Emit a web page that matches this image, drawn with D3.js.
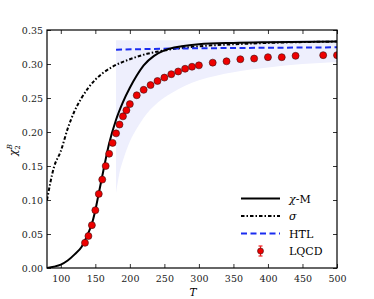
<!DOCTYPE html>
<html>
<head>
<meta charset="utf-8">
<script src="https://cdn.jsdelivr.net/npm/d3@7"></script>
<style>
  body { margin: 0; background: #fff; }
  svg { display: block; }
</style>
</head>
<body>
<script>
// chi-M model curve
const chiT = [80, 90, 100, 110, 120, 130, 140, 145, 150, 155, 160, 165, 170, 180, 190, 200, 210, 220, 235, 250, 275, 300, 350, 400, 500];
const chiV = [0.000, 0.002, 0.005, 0.011, 0.020, 0.031, 0.052, 0.065, 0.085, 0.110, 0.135, 0.160, 0.183, 0.218, 0.244, 0.265, 0.283, 0.298, 0.312, 0.320, 0.326, 0.329, 0.331, 0.332, 0.333];

// sigma curve
const sigT = [80, 90, 100, 110, 120, 130, 140, 150, 160, 175, 200, 225, 250, 300, 350, 400, 500];
const sigV = [0.100, 0.148, 0.172, 0.205, 0.231, 0.250, 0.265, 0.277, 0.286, 0.296, 0.307, 0.315, 0.320, 0.326, 0.329, 0.331, 0.333];

// HTL
const htlT = [180, 250, 350, 500];
const htlV = [0.321, 0.3225, 0.3235, 0.3245];

// HTL uncertainty band
const bandT = [180, 185, 190, 200, 210, 220, 240, 260, 280, 300, 350, 400, 450, 500];
const bandLo = [0.110, 0.140, 0.158, 0.186, 0.205, 0.221, 0.243, 0.257, 0.268, 0.276, 0.288, 0.295, 0.300, 0.303];
const bandHi = [0.335, 0.335, 0.335, 0.335, 0.335, 0.335, 0.335, 0.335, 0.335, 0.335, 0.335, 0.335, 0.335, 0.335];

// lattice QCD points
const lqcdT = [135, 140, 145, 150, 155, 160, 165, 170, 175, 180, 185, 190, 195, 200, 210, 220, 230, 240, 250, 260, 270, 280, 290, 300, 320, 340, 360, 380, 400, 420, 440, 480, 500];
const lqcdV = [0.037, 0.047, 0.063, 0.085, 0.109, 0.130, 0.150, 0.168, 0.184, 0.198, 0.211, 0.223, 0.232, 0.241, 0.254, 0.262, 0.269, 0.275, 0.280, 0.285, 0.289, 0.293, 0.296, 0.298, 0.302, 0.304, 0.307, 0.308, 0.310, 0.310, 0.312, 0.313, 0.313];
const lqcdErr = [0.003, 0.003, 0.003, 0.003, 0.003, 0.003, 0.003, 0.003, 0.003, 0.003, 0.003, 0.003, 0.003, 0.003, 0.003, 0.003, 0.003, 0.003, 0.003, 0.003, 0.003, 0.003, 0.003, 0.003, 0.003, 0.003, 0.003, 0.003, 0.003, 0.003, 0.003, 0.003, 0.003];

const xTicks = [100, 150, 200, 250, 300, 350, 400, 450, 500];
const yTicks = [0, 0.05, 0.10, 0.15, 0.20, 0.25, 0.30, 0.35];

const width = 374, height = 299;
const margin = {top: 30, right: 37, bottom: 31, left: 47};
const iw = width - margin.left - margin.right,
    ih = height - margin.top - margin.bottom;

const x = d3.scaleLinear().domain([80, 500]).range([0, iw]);
const y = d3.scaleLinear().domain([0, 0.35]).range([ih, 0]);

const serif = '"DejaVu Serif", serif';
const dotDash = '3.5,2,1.5,2';
const htlDash = '6,3.5';

const svg = d3.select('body').append('svg')
    .attr('width', width)
    .attr('height', height)
    .attr('font-family', serif);

svg.append('defs').append('clipPath').attr('id', 'clip')
  .append('rect').attr('width', iw).attr('height', ih);

const g = svg.append('g')
    .attr('transform', `translate(${margin.left},${margin.top})`);

const plot = g.append('g').attr('clip-path', 'url(#clip)');

// band
const area = d3.area()
    .x(d => x(d[0]))
    .y0(d => y(d[1]))
    .y1(d => y(d[2]))
    .curve(d3.curveMonotoneX);
plot.append('path')
    .datum(bandT.map((t, i) => [t, bandLo[i], bandHi[i]]))
    .attr('d', area)
    .style('fill', '#eeeffd')
    .style('stroke', 'none');

const line = d3.line()
    .x(d => x(d[0]))
    .y(d => y(d[1]))
    .curve(d3.curveMonotoneX);

// sigma
plot.append('path')
    .datum(sigT.map((t, i) => [t, sigV[i]]))
    .attr('d', line)
    .style('fill', 'none')
    .style('stroke', '#000')
    .style('stroke-width', 2)
    .style('stroke-dasharray', dotDash);

// HTL
plot.append('path')
    .datum(htlT.map((t, i) => [t, htlV[i]]))
    .attr('d', line)
    .style('fill', 'none')
    .style('stroke', '#1a2cf0')
    .style('stroke-width', 2)
    .style('stroke-dasharray', htlDash);

// chi-M
plot.append('path')
    .datum(chiT.map((t, i) => [t, chiV[i]]))
    .attr('d', line)
    .style('fill', 'none')
    .style('stroke', '#000')
    .style('stroke-width', 2);

// LQCD points
const pts = lqcdT.map((t, i) => ({t: t, v: lqcdV[i], e: lqcdErr[i]}));
const pt = plot.selectAll('g.pt').data(pts).enter()
  .append('g').attr('class', 'pt');
pt.append('line')
    .attr('x1', d => x(d.t)).attr('x2', d => x(d.t))
    .attr('y1', d => y(d.v - d.e)).attr('y2', d => y(d.v + d.e))
    .style('stroke', '#f02020').style('stroke-width', 1.2);
pt.append('circle')
    .attr('cx', d => x(d.t))
    .attr('cy', d => y(d.v))
    .attr('r', 3.5)
    .style('fill', '#ee0000')
    .style('stroke', '#3a1010')
    .style('stroke-width', 0.6);

// axes, ticks pointing in on all four sides
const axB = g.append('g').attr('transform', `translate(0,${ih})`)
    .call(d3.axisBottom(x).tickValues(xTicks).tickSizeInner(-4).tickSizeOuter(0).tickPadding(7));
const axT = g.append('g')
    .call(d3.axisTop(x).tickValues(xTicks).tickSizeInner(-4).tickSizeOuter(0).tickFormat(''));
const axL = g.append('g')
    .call(d3.axisLeft(y).tickValues(yTicks).tickSizeInner(-4).tickSizeOuter(0).tickPadding(4)
      .tickFormat(d3.format('.2f')));
const axR = g.append('g').attr('transform', `translate(${iw},0)`)
    .call(d3.axisRight(y).tickValues(yTicks).tickSizeInner(-4).tickSizeOuter(0).tickFormat(''));

[axB, axT, axL, axR].forEach(a => {
  a.attr('font-family', serif).attr('font-size', 9.5);
  a.select('.domain').remove();
  a.selectAll('line').style('stroke', '#000').style('stroke-width', 0.8);
  a.selectAll('text').style('fill', '#222');
});

g.append('rect')
    .attr('width', iw).attr('height', ih)
    .style('fill', 'none')
    .style('stroke', '#000')
    .style('stroke-width', 1.2);

// axis labels
g.append('text')
    .attr('x', iw / 2 + 1).attr('y', ih + 28)
    .attr('text-anchor', 'middle')
    .attr('font-style', 'italic')
    .attr('font-size', 10.5)
    .text('T');

const yl = svg.append('text')
    .attr('transform', 'translate(17,150) rotate(-90)')
    .attr('text-anchor', 'middle')
    .attr('font-size', 10.5);
yl.append('tspan').attr('font-style', 'italic').text('χ');
yl.append('tspan').attr('dy', 3).attr('font-size', 7).text('2');
yl.append('tspan').attr('dx', -4).attr('dy', -8).attr('font-size', 7).attr('font-style', 'italic').text('B');

// legend
const legX0 = 241 - margin.left, legX1 = 280 - margin.left, legTx = 289 - margin.left;
const legY = [198.5, 216, 233.5, 251].map(v => v - margin.top);
const leg = g.append('g');
leg.append('line').attr('x1', legX0).attr('x2', legX1).attr('y1', legY[0]).attr('y2', legY[0])
    .style('stroke', '#000').style('stroke-width', 2);
leg.append('line').attr('x1', legX0).attr('x2', legX1).attr('y1', legY[1]).attr('y2', legY[1])
    .style('stroke', '#000').style('stroke-width', 2).style('stroke-dasharray', dotDash);
leg.append('line').attr('x1', legX0).attr('x2', legX1).attr('y1', legY[2]).attr('y2', legY[2])
    .style('stroke', '#1a2cf0').style('stroke-width', 2).style('stroke-dasharray', htlDash);
const lmx = (legX0 + legX1) / 2;
leg.append('line').attr('x1', lmx).attr('x2', lmx).attr('y1', legY[3] - 5).attr('y2', legY[3] + 5)
    .style('stroke', '#f02020').style('stroke-width', 1.2);
leg.append('line').attr('x1', lmx - 2).attr('x2', lmx + 2).attr('y1', legY[3] - 5).attr('y2', legY[3] - 5)
    .style('stroke', '#f02020').style('stroke-width', 1.2);
leg.append('line').attr('x1', lmx - 2).attr('x2', lmx + 2).attr('y1', legY[3] + 5).attr('y2', legY[3] + 5)
    .style('stroke', '#f02020').style('stroke-width', 1.2);
leg.append('circle').attr('cx', lmx).attr('cy', legY[3]).attr('r', 3)
    .style('fill', '#ee0000').style('stroke', '#3a1010').style('stroke-width', 0.6);

const labs = [['χ', '-M'], ['σ', ''], ['', 'HTL'], ['', 'LQCD']];
labs.forEach((l, i) => {
  const t = leg.append('text')
      .attr('x', legTx).attr('y', legY[i] + 4)
      .attr('font-size', 11);
  if (l[0]) t.append('tspan').attr('font-style', 'italic').text(l[0]);
  if (l[1]) t.append('tspan').text(l[1]);
});
</script>
</body>
</html>
